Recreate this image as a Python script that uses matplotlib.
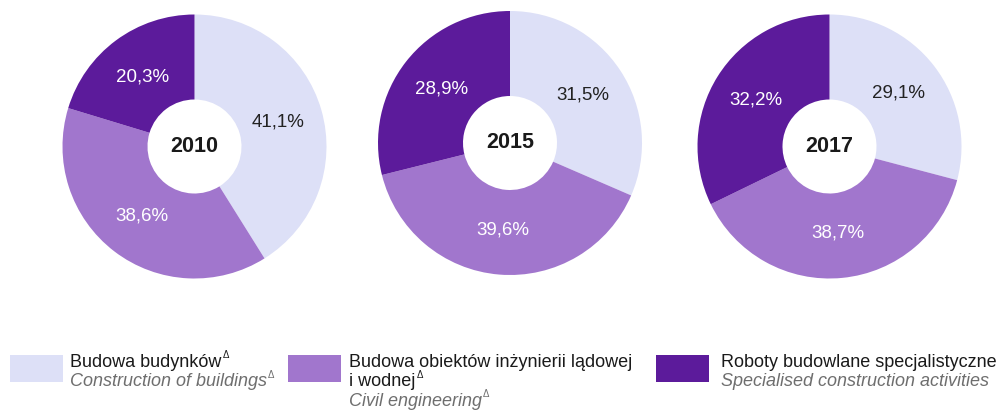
import matplotlib
matplotlib.use("Agg")
import matplotlib.pyplot as plt
from matplotlib.patches import Rectangle

plt.rcParams['font.family'] = ['Liberation Sans', 'DejaVu Sans']

# ---- data ----
years = ["2010", "2015", "2017"]
buildings = [41.1, 31.5, 29.1]
civil = [38.6, 39.6, 38.7]
specialised = [20.3, 28.9, 32.2]

# legend lines: (text, has_delta_mark)
legend_pl = [[("Budowa budynków", True)],
             [("Budowa obiektów inżynierii lądowej", False), ("i wodnej", True)],
             [("Roboty budowlane specjalistyczne", False)]]
legend_en = [("Construction of buildings", True),
             ("Civil engineering", True),
             ("Specialised construction activities", False)]

colors = ["#DDE0F7", "#A176CD", "#5C1B9B"]
label_colors = ["#222222", "white", "white"]

W, H = 1007, 412
fig = plt.figure(figsize=(W / 100, H / 100), dpi=100)

centers = [(194.5, 146.5), (510, 143), (829.5, 146.5)]
R = 132
hole = 47 / 132


def fmt(p):
    return f"{p:.1f}".replace(".", ",") + "%"


for i, (cx, cy) in enumerate(centers):
    ax = fig.add_axes([(cx - R) / W, (H - cy - R) / H, 2 * R / W, 2 * R / H])
    vals = [buildings[i], civil[i], specialised[i]]
    wedges, _, autotexts = ax.pie(
        vals, colors=colors, startangle=90, counterclock=False,
        autopct=fmt, pctdistance=0.66, radius=1,
        wedgeprops=dict(width=1 - hole, linewidth=0),
        textprops=dict(fontsize=13.5))
    for t, c in zip(autotexts, label_colors):
        t.set_color(c)
    ax.text(0, 0, years[i], ha="center", va="center", fontsize=15.5,
            fontweight="bold", color="#1a1a1a")
    ax.set_xlim(-1, 1)
    ax.set_ylim(-1, 1)
    ax.axis("off")

renderer = fig.canvas.get_renderer()


def line(x, y, txt, delta, color, style):
    t = fig.text(x / W, (H - y) / H, txt, fontsize=13, color=color,
                 style=style, va="baseline", ha="left")
    if delta:
        bb = t.get_window_extent(renderer=renderer)
        fig.text((bb.x1 + 1) / W, (H - y + 9) / H, "\u0394", fontsize=7,
                 color=color, va="baseline", ha="left")


# ---- legend ----
patch_x = [10, 288, 656]
text_x = [70, 349, 721]
pw, py0, py1 = 53, 355, 382
for i in range(3):
    fig.patches.append(Rectangle((patch_x[i] / W, (H - py1) / H), pw / W,
                                 (py1 - py0) / H, transform=fig.transFigure,
                                 facecolor=colors[i], edgecolor="none"))
    y = 367
    for txt, d in legend_pl[i]:
        line(text_x[i], y, txt, d, "#1a1a1a", "normal")
        y += 19.5
    txt, d = legend_en[i]
    line(text_x[i], y, txt, d, "#6e6e6e", "italic")

fig.savefig("out.png", dpi=100)
